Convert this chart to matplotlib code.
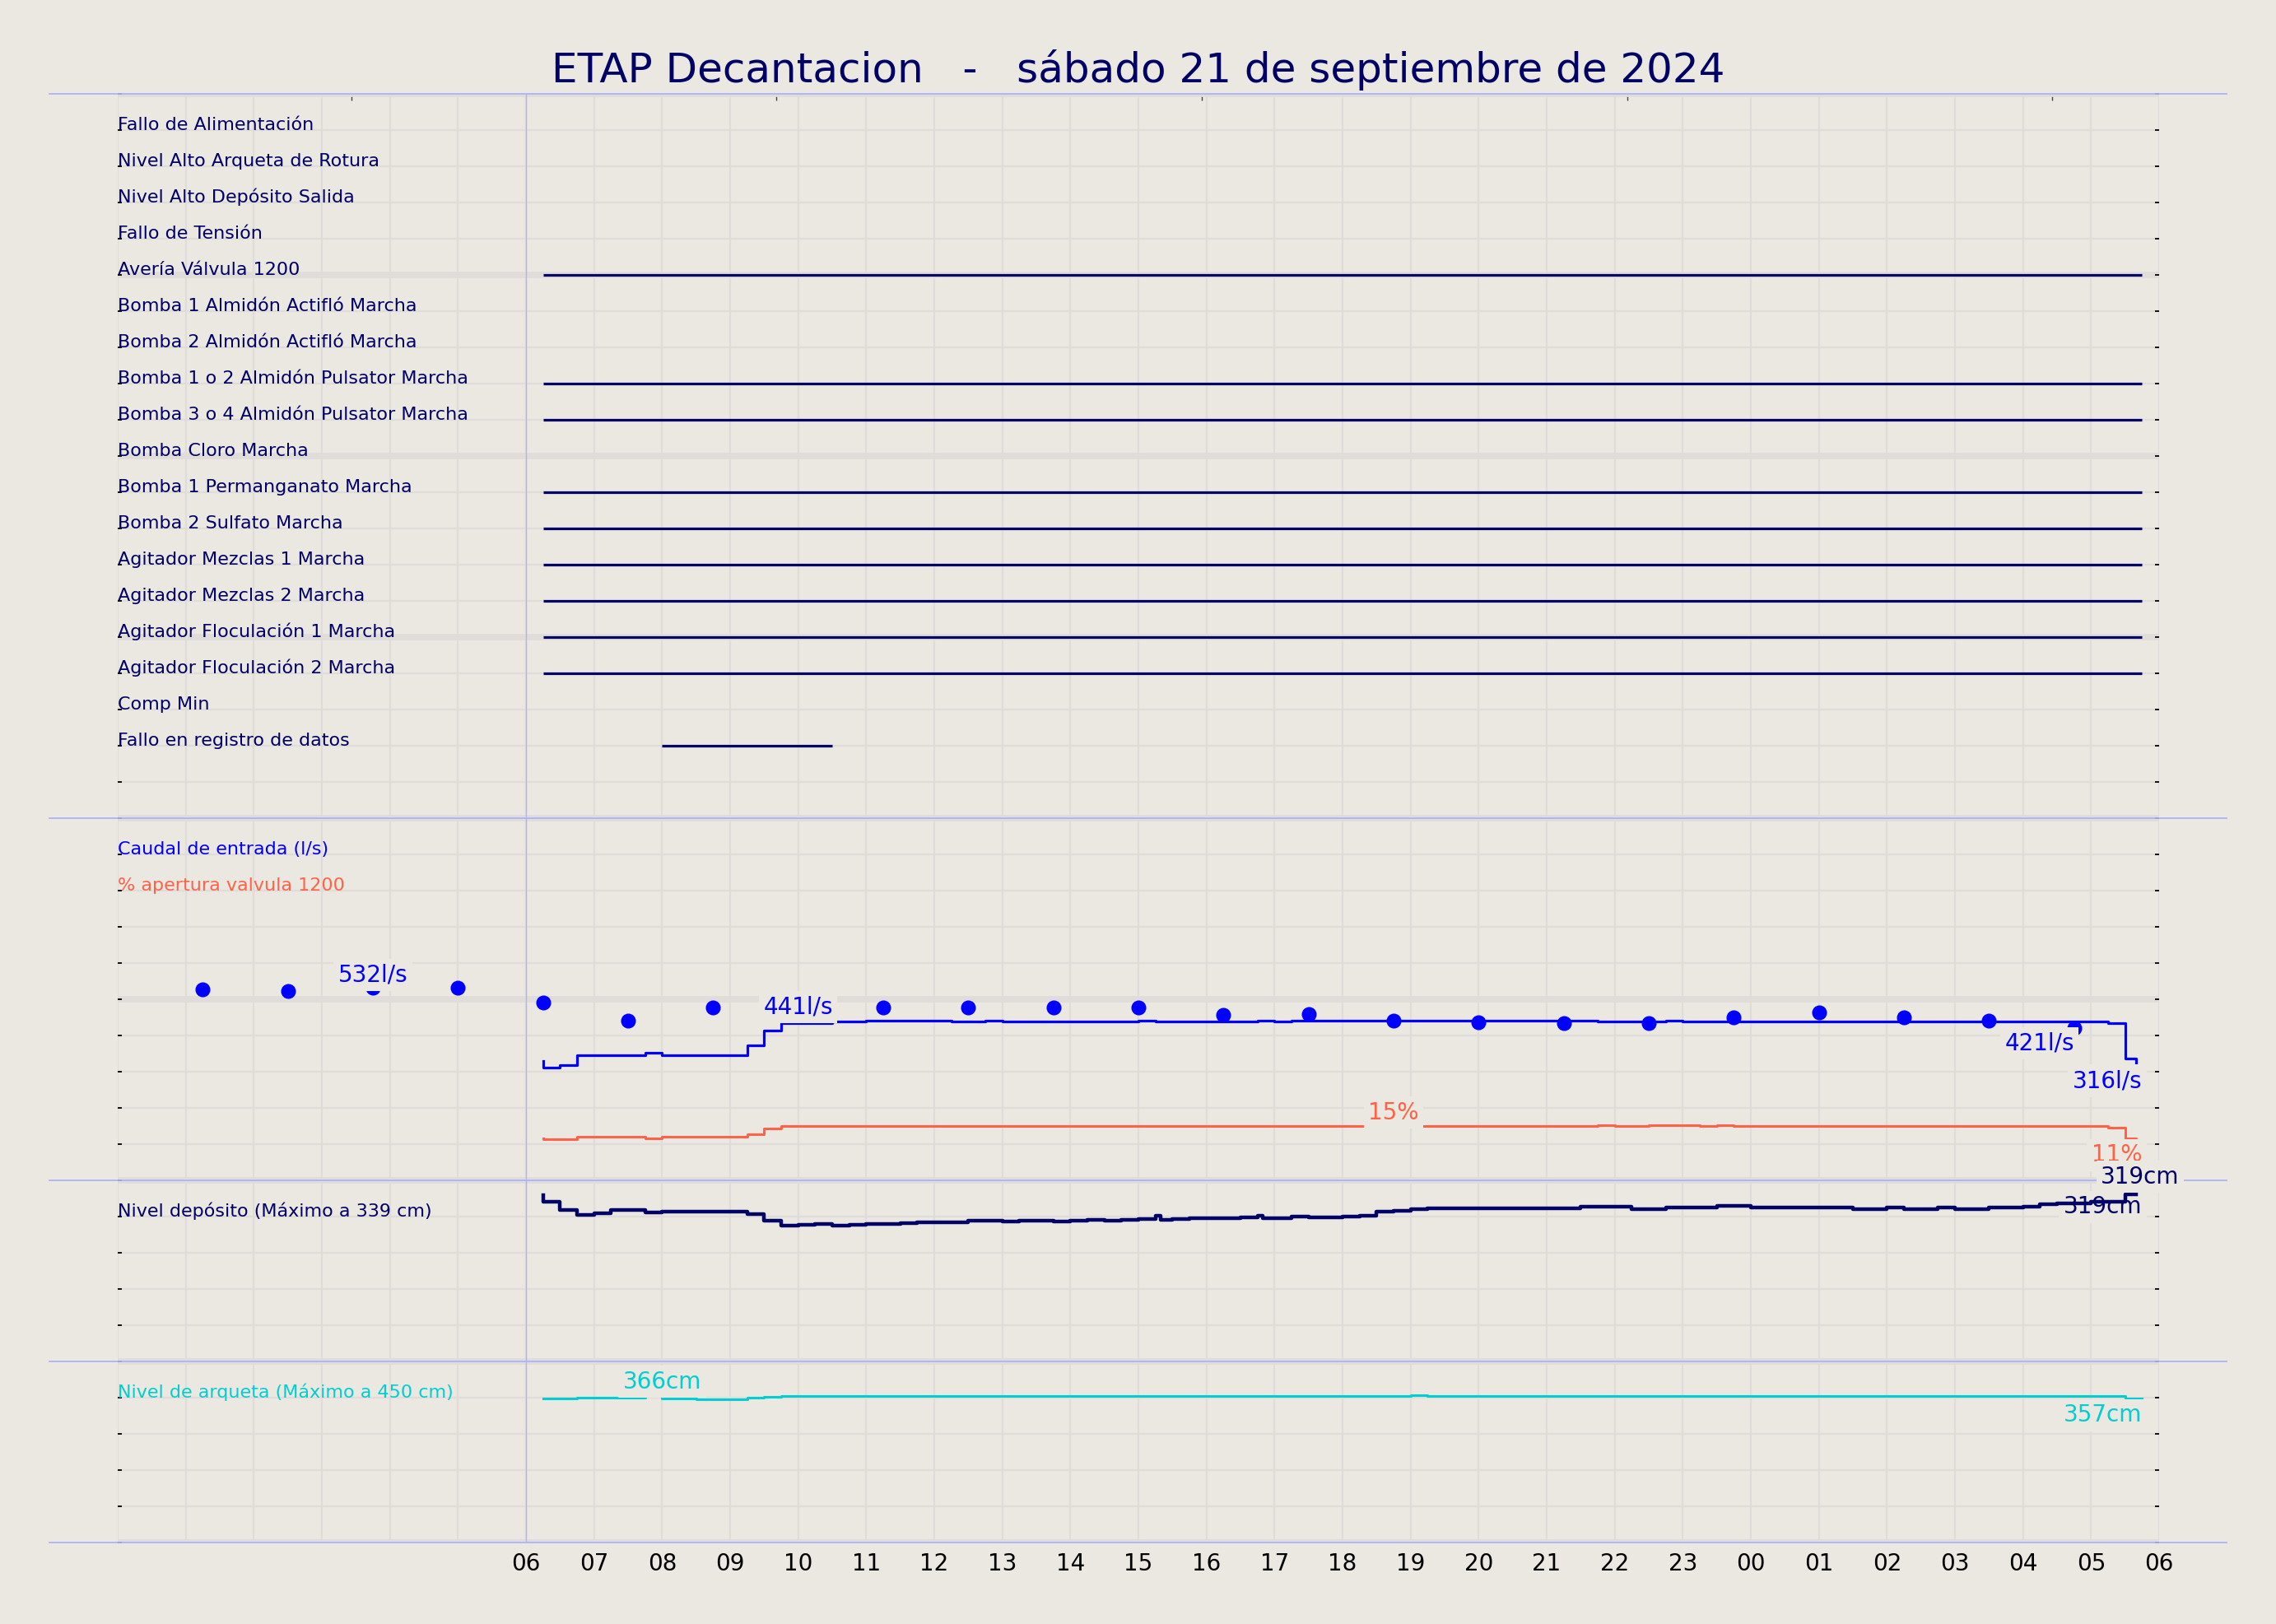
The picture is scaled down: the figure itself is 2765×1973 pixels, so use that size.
import matplotlib
matplotlib.use('Agg')
import matplotlib.pyplot as plt
import matplotlib.transforms as mtransforms

BG = '#ebe7e1'
GRID = '#e0dcda'
LAV = '#b0b0ff'
NAVY = '#000066'
BLUE = '#0000ff'
RED = 'tomato'
CYAN = 'darkturquoise'

# hours since 00:00 of the day before; 6 = 06:00 sabado, 30 = 06:00 domingo
hour_ticks = list(range(6, 31))
hour_labels = ['%02d' % (h % 24) for h in hour_ticks]
top_ticks = [3.43, 9.68, 15.93, 22.18, 28.43]

# digital signals (label, row, list of on-intervals)
event_names = ['Fallo de Alimentación', 'Nivel Alto Arqueta de Rotura',
               'Nivel Alto Depósito Salida', 'Fallo de Tensión',
               'Avería Válvula 1200', 'Bomba 1 Almidón Actifló Marcha',
               'Bomba 2 Almidón Actifló Marcha',
               'Bomba 1 o 2 Almidón Pulsator Marcha',
               'Bomba 3 o 4 Almidón Pulsator Marcha', 'Bomba Cloro Marcha',
               'Bomba 1 Permanganato Marcha', 'Bomba 2 Sulfato Marcha',
               'Agitador Mezclas 1 Marcha', 'Agitador Mezclas 2 Marcha',
               'Agitador Floculación 1 Marcha', 'Agitador Floculación 2 Marcha',
               'Comp Min', 'Fallo en registro de datos']
event_rows = list(range(39, 21, -1))
event_on = [[], [], [], [], [(6.25, 29.75)], [], [], [(6.25, 29.75)],
            [(6.25, 29.75)], [], [(6.25, 29.75)], [(6.25, 29.75)],
            [(6.25, 29.75)], [(6.25, 29.75)], [(6.25, 29.75)],
            [(6.25, 29.75)], [], [(8.0, 10.5)]]

# caudal de entrada (l/s), steps drawn 'pre'
caudal_t = [6.25, 6.5, 6.75, 7.75, 8.0, 9.25, 9.5, 9.75, 10.5, 11.0, 12.25,
            12.75, 13.0, 15.0, 15.25, 16.75, 17.0, 17.25, 21.75, 22.75, 23.0,
            29.25, 29.5, 29.667, 29.75]
caudal_v = [329, 312, 318, 345, 352, 345, 373, 413, 435, 439, 441,
            439, 441, 439, 441, 439, 441, 439, 441, 439, 441,
            439, 433, 336, 316]

# caudal reference points (l/s)
dots_t = [1.25, 2.5, 3.75, 5.0, 6.25, 7.5, 8.75, 11.25, 12.5, 13.75, 15.0,
          16.25, 17.5, 18.75, 20.0, 21.25, 22.5, 23.75, 25.0, 26.25, 27.5,
          28.75]
dots_v = [527, 522, 532, 531, 492, 440, 477, 477, 477, 477, 477,
          457, 460, 440, 437, 433, 433, 450, 463, 450, 442, 421]

# % apertura valvula 1200
apert_t = [6.25, 6.75, 7.75, 8.0, 9.25, 9.5, 9.75, 21.75, 22.0, 22.5, 23.25,
           23.5, 23.75, 29.25, 29.5, 29.667, 29.75]
apert_v = [11.5, 11.3, 12.0, 11.5, 12.0, 12.8, 14.3, 14.9, 15.2, 14.9, 15.2,
           14.9, 15.2, 14.9, 14.6, 11.5, 11.0]

# nivel deposito (cm)
dep_t = [6.25, 6.5, 6.75, 7.0, 7.25, 7.75, 8.0, 9.25, 9.5, 9.75, 10.0, 10.25,
         10.5, 10.75, 11.0, 11.5, 11.75, 12.0, 12.5, 13.0, 13.25, 13.75,
         14.0, 14.25, 14.5, 14.75, 15.0, 15.25, 15.33, 15.5, 15.75, 16.5,
         16.75, 16.83, 17.25, 17.5, 18.0, 18.25, 18.5, 18.75, 19.0, 19.25,
         21.5, 22.25, 22.75, 23.5, 24.0, 24.75, 25.5, 26.0, 26.25, 26.75,
         27.0, 27.5, 28.0, 28.25, 28.5, 29.0, 29.5, 29.667]
dep_v = [318, 305, 289, 279.5, 283, 289, 285, 286.4, 281, 269, 259.6, 261,
         262.7, 259.6, 261, 262, 263.7, 265.3, 266.4, 268.5, 267, 268.5,
         267, 269, 271, 269, 270.6, 272.7, 278, 271, 272.7, 273.7,
         275.3, 278.5, 273.7, 276.3, 275.3, 276.3, 278, 286.4, 288, 290.5,
         292, 296.3, 291.6, 293.7, 297.9, 294.7, 293.7, 291.6, 293.7, 291.6,
         293.7, 291.6, 293.7, 296.3, 300, 302, 305.3, 319]

# nivel arqueta (cm)
arq_t = [6.25, 6.75, 7.75, 8.0, 8.5, 9.25, 9.5, 9.75, 19.0, 19.25, 29.5, 29.75]
arq_v = [357, 357, 360.7, 366, 357, 356.6, 359.3, 362.7, 364.8, 366, 364.8,
         357]

# band mapping onto the single 0-40 axis
def caudal_y(v):
    return 10 + v / 100.0

def apert_y(v):
    return 10 + v / 10.0

def dep_y(v):
    return 5 + v / 69.2

def arq_y(v):
    return v / 90.0


fig = plt.figure(figsize=(27.65, 19.73), dpi=100, facecolor=BG)
ax = fig.add_axes([143 / 2765, 1 - 1874 / 1973, 2480 / 2765, 1760 / 1973])
ax.set_facecolor(BG)
for sp in ax.spines.values():
    sp.set_visible(False)

ax.set_xticks(hour_ticks)
ax.set_xticklabels(hour_labels)
ax.set_xticks(range(0, 31), minor=True)
ax.set_yticks(range(0, 41, 5))
ax.set_yticks(range(0, 41), minor=True)
ax.set_yticklabels([])
ax.xaxis.grid(True, which='both', color=GRID, lw=1.7)
ax.yaxis.grid(True, which='minor', color=GRID, lw=1.7)
ax.yaxis.grid(True, which='major', color=GRID, lw=5.5)
ax.set_axisbelow(True)
ax.tick_params(axis='x', which='both', length=0, pad=9, labelsize=20,
               labelcolor='black')
ax.tick_params(axis='y', which='both', left=True, right=True,
               direction='in', length=3.5, width=1.3, color='black')

sec = ax.secondary_xaxis('top')
sec.set_xticks(top_ticks)
sec.tick_params(direction='in', length=6, width=1, color='#444444',
                labeltop=False)
for sp in sec.spines.values():
    sp.set_visible(False)

# section separators
trans = mtransforms.blended_transform_factory(fig.transFigure, ax.transData)
for yy in [0, 5, 10, 20, 40]:
    ax.plot([60 / 2765, 2705 / 2765], [yy, yy], transform=trans, color=LAV,
            lw=1.3, clip_on=False, zorder=2)
ax.axvline(6, color=LAV, lw=1.0, zorder=2)

# digital signals
for name, row, spans in zip(event_names, event_rows, event_on):
    ax.text(0, row, name, color=NAVY, fontsize=16, ha='left',
            va='baseline', zorder=4)
    for a, b in spans:
        ax.hlines(row, a, b, color=NAVY, lw=2.3, zorder=3)

# analog series
ax.plot(caudal_t, [caudal_y(v) for v in caudal_v], drawstyle='steps-pre',
        color=BLUE, lw=2.3, zorder=3)
ax.plot(dots_t, [caudal_y(v) for v in dots_v], 'o', color=BLUE,
        markersize=12, zorder=4)
ax.plot(apert_t, [apert_y(v) for v in apert_v], drawstyle='steps-pre',
        color=RED, lw=2.2, zorder=3)
ax.plot(dep_t, [dep_y(v) for v in dep_v], drawstyle='steps-pre',
        color=NAVY, lw=3.2, zorder=3)
ax.plot(arq_t, [arq_y(v) for v in arq_v], drawstyle='steps-pre',
        color=CYAN, lw=2.2, zorder=3)

series_labels = [('Caudal de entrada (l/s)', 19, BLUE),
                 ('% apertura valvula 1200', 18, RED),
                 ('Nivel depósito (Máximo a 339 cm)', 9, NAVY),
                 ('Nivel de arqueta (Máximo a 450 cm)', 4, CYAN)]
for txt, row, col in series_labels:
    ax.text(0, row, txt, color=col, fontsize=16, ha='left', va='baseline',
            zorder=4)

# value annotations
box = dict(boxstyle='square,pad=0.2', fc=BG, ec='none')
ax.text(3.75, caudal_y(532) + 0.36, '532l/s', color=BLUE, fontsize=20,
        ha='center', va='center', bbox=box, zorder=5)
ax.text(10.0, caudal_y(441) + 0.37, '441l/s', color=BLUE, fontsize=20,
        ha='center', va='center', bbox=box, zorder=5)
ax.text(28.75, caudal_y(421) - 0.43, '421l/s', color=BLUE, fontsize=20,
        ha='right', va='center', bbox=box, zorder=5)
ax.text(29.75, caudal_y(316) - 0.41, '316l/s', color=BLUE, fontsize=20,
        ha='right', va='center', bbox=box, zorder=5)
ax.text(18.75, apert_y(15) + 0.37, '15%', color=RED, fontsize=20,
        ha='center', va='center', bbox=box, zorder=5)
ax.text(29.75, apert_y(11) - 0.40, '11%', color=RED, fontsize=20,
        ha='right', va='center', bbox=box, zorder=5)
ax.text(29.72, dep_y(319) + 0.49, '319cm', color=NAVY, fontsize=20,
        ha='center', va='center', bbox=box, zorder=5)
ax.text(29.75, dep_y(319) - 0.34, '319cm', color=NAVY, fontsize=20,
        ha='right', va='center', bbox=box, zorder=2.5)
ax.text(8.0, arq_y(366) + 0.37, '366cm', color=CYAN, fontsize=20,
        ha='center', va='center', bbox=box, zorder=5)
ax.text(29.75, arq_y(357) - 0.45, '357cm', color=CYAN, fontsize=20,
        ha='right', va='center', bbox=box, zorder=5)

ax.set_xlim(0, 30)
ax.set_ylim(0, 40)

fig.text(0.5, 1 - 100 / 1973,
         'ETAP Decantacion   -   sábado 21 de septiembre de 2024',
         color=NAVY, fontsize=36, ha='center', va='baseline')

fig.savefig('out.png', dpi=100, facecolor=BG)
